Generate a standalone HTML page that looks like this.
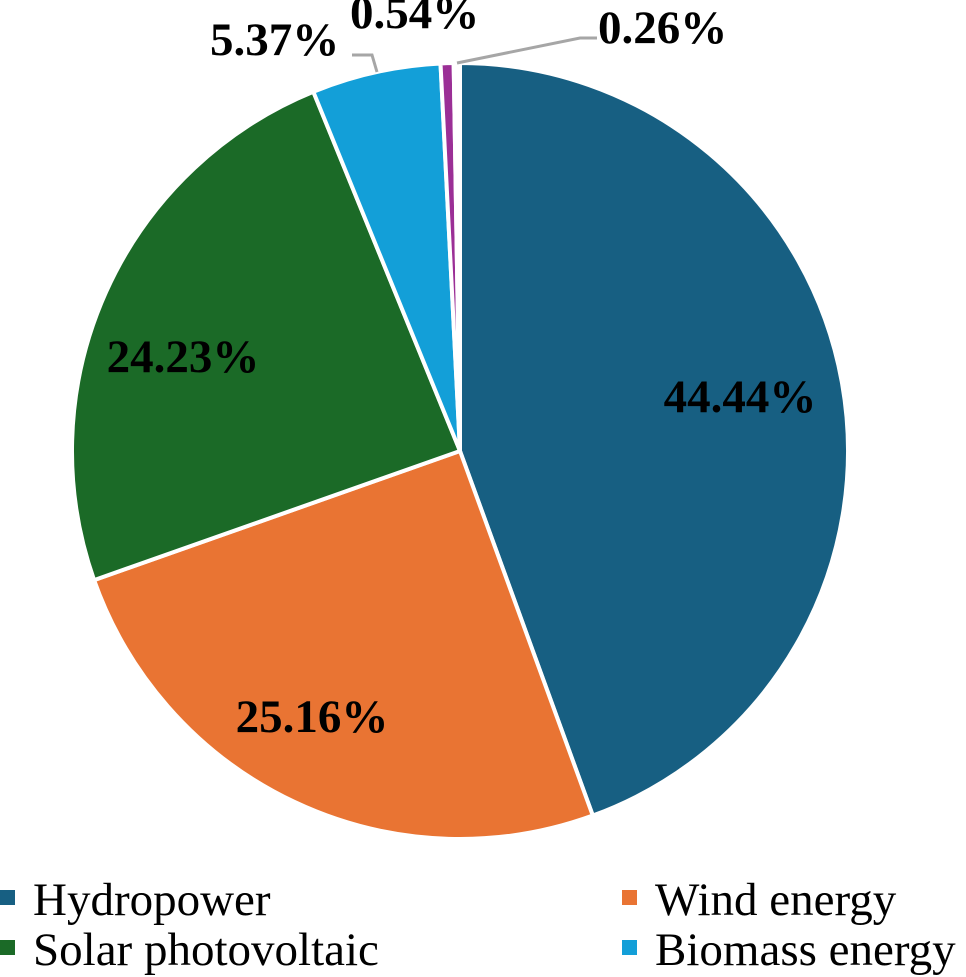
<!DOCTYPE html>
<html><head><meta charset="utf-8"><style>
html,body{margin:0;padding:0;background:#fff;width:966px;height:977px;overflow:hidden}
svg{display:block}
.lbl{font-family:"Liberation Serif",serif;font-weight:bold;font-size:47px;fill:#000}
.leg{font-family:"Liberation Serif",serif;font-size:47px;fill:#000}
</style></head><body>
<svg id="chart" width="966" height="977"></svg>
<script>
const categories = ["Hydropower","Wind energy","Solar photovoltaic","Biomass energy","Other A","Other B"];
const values = [44.44,25.16,24.23,5.37,0.54,0.26];
const colors = ["#175f82","#e97433","#1b6a27","#139fd8","#9b2f96","#ffffff"];
const valueLabels = ["44.44%","25.16%","24.23%","5.37%","0.54%","0.26%"];
const legendCats = ["Hydropower","Wind energy","Solar photovoltaic","Biomass energy"];

const svg = document.getElementById('chart');
const NS = 'http://www.w3.org/2000/svg';
const cx = 460, cy = 451, r = 388;
const total = values.reduce((a,b)=>a+b,0);
function angleOf(v){ return v/total*2*Math.PI; }
function pt(a, rr){ return [cx + rr*Math.sin(a), cy - rr*Math.cos(a)]; }
function mk(tag, attrs){ const e=document.createElementNS(NS,tag); for(const k in attrs) e.setAttribute(k,attrs[k]); svg.appendChild(e); return e; }

let acc = 0;
values.forEach((v,i)=>{
  const a0 = angleOf(acc), a1 = angleOf(acc+v);
  acc += v;
  const p0 = pt(a0,r), p1 = pt(a1,r);
  const large = (a1-a0) > Math.PI ? 1 : 0;
  const p = mk('path',{d:`M${cx},${cy} L${p0[0]},${p0[1]} A${r},${r} 0 ${large} 1 ${p1[0]},${p1[1]} Z`, fill:colors[i], stroke:'#fff','stroke-width':4,'stroke-linejoin':'round'});
  
  
});

const inside = [[740,412],[312,732],[183,372]];
[0,1,2].forEach(i=>{
  const t = mk('text',{x:inside[i][0],y:inside[i][1],'text-anchor':'middle',class:'lbl'});
  t.textContent = valueLabels[i];
  
  
});

const l1 = mk('polyline',{points:'352,55 372,55 377,72',fill:'none',stroke:'#a6a6a6','stroke-width':3});


const l2 = mk('polyline',{points:'457,63 580,38 597,38',fill:'none',stroke:'#a6a6a6','stroke-width':3});



const outside = [[3,210,55],[4,350,28],[5,598,43]];
outside.forEach(o=>{
  const t = mk('text',{x:o[1],y:o[2],class:'lbl'});
  t.textContent = valueLabels[o[0]];
  
  
});

const legPos = [[0,915],[622,915],[0,965],[622,965]];
legendCats.forEach((c,i)=>{
  const [x,y] = legPos[i];
  const s = mk('rect',{x:x,y:y-25,width:15,height:15,fill:colors[i]});
  
  
  const t = mk('text',{x:x+33,y:y,class:'leg'});
  t.textContent = c;
  
  
});
</script>
</body></html>
